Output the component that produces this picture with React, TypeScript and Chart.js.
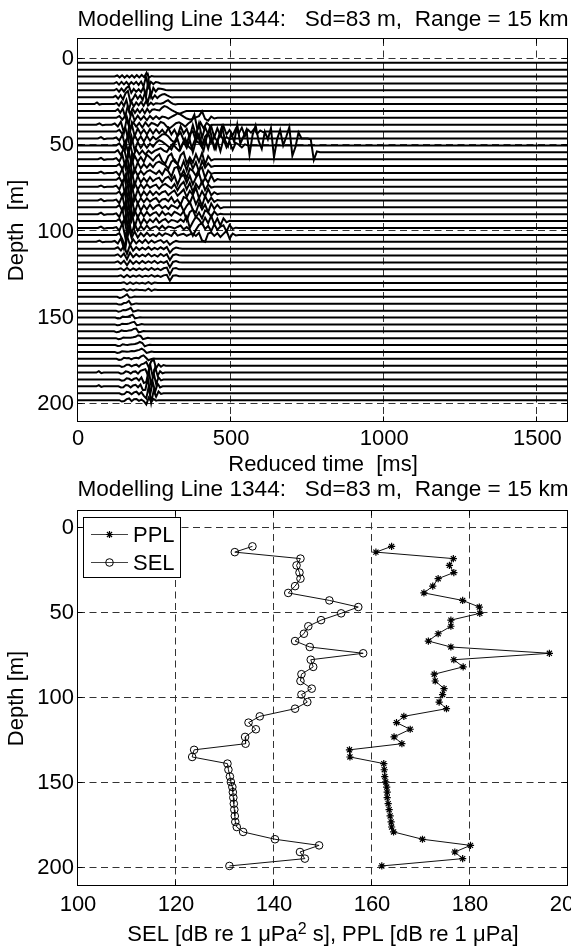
import React, { useEffect, useRef } from "react";
import { Chart, registerables } from "chart.js";

Chart.register(...registerables);

const FONT = '"Liberation Sans", Arial, Helvetica, sans-serif';

// ---------- Top panel: reduced-time traces ----------
const TITLE = "Modelling Line 1344:   Sd=83 m,  Range = 15 km";
const TIME_TICKS = [0, 500, 1000, 1500];
const DEPTH_TICKS = [0, 50, 100, 150, 200];
const TIME_RANGE = [0, 1600];
const TOP_DEPTH_RANGE = [-11.8, 210.7];
const TRACE_DEPTHS = [2, 6, 10, 14, 18, 22, 26, 30, 34, 38, 42, 46, 50, 54, 58, 62, 66, 70, 74, 78, 82, 86, 90, 94, 98, 102, 106, 110, 114, 118, 122, 126, 130, 134, 138, 142, 146, 150, 154, 158, 162, 166, 170, 174, 178, 182, 186, 190, 194, 198];
// each trace: [start time ms, sample step ms, offsets in m (positive = upwards)...]
const TRACE_WIGGLES: number[][] = [
  [],
  [],
  [120, 8, 0, .6, -.5, .7, -.6, .6, -.5, .7, -.6, .8, -.5, .9, -.4, 2.2, -.6, .3, 0],
  [118, 8, 0, .7, -.7, .9, -.6, .8, -.8, .7, -.5, .9, -.8, 1.1, -1.6, 3.8, -2.2, .9, -.4, .8, .5, 0],
  [118, 8, 0, .8, -.8, 1, -.7, 1.3, 2.4, -1.4, .8, -.9, .6, -1, 1.8, -4, 6.8, -3.2, 1.4, -.7, 1, .9, .6, .2, 0],
  [115, 8, 0, .8, -.9, 1.1, -1.3, 2.2, 3.6, -2.8, -1, 1.6, -.9, 1, -1.6, 2.8, -3.6, 2, -.9, 1.1, -.5, .8, 1.6, 1.8, 1, .3, -.2, 0],
  [54, 8, 0, .9, -.3, 0, 0, 0, 0, 0, 0, .6, -.9, 1.3, -1.1, 2.4, -3.4, 1.6, -1.4, .9, -.7, 1.2, -1, 1.5, -.6, .8, -.4, .5, .3, .2, .6, 1.6, 2.2, 1, .1, -.3, 0],
  [122, 8, 0, 1, -1, 1.4, -3.4, 2.6, -1.8, 1.3, -1.1, 1, -.9, 1.1, -1.3, 1.2, -.8, .7, 1, .5, .3, 1.8, 2.8, 2.4, 1.4, .5, -.3, -1, -1.6, -1.2, -.5, 0],
  [125, 10, 0, 1, -1, 1.4, -4, 3.5, -1.6, 1.2, -1.1, .9, -1.3, 1.1, -.7, .9, -.6, .7, .4, -.5, .6, 1.5, 2.6, 1.9, .7, -.4, -1, -.6, .3, 1, 3.8, -.6, -1.6, .7, -.4, 0],
  [60, 10, 0, .8, -.3, 0, 0, 0, .7, -1, 1.8, -4.6, 4.2, -2.2, 1.4, -1.1, 1, -1.6, 1.3, -.9, 1, .4, -.7, 1.6, .9, -1.1, -2, -.6, .9, 1.4, .4, -1.1, .7, 2, 5.8, -2.8, 1.3, -2, 1.1, -.5, 0],
  [125, 10, 0, 1, -1.4, 2, -5, 4.6, -2.6, 1.8, -1.3, 1.1, -1.6, 1.4, -1.1, 1.3, -.9, 1.1, -1.3, 2.1, -1.6, 1.1, -2.6, 3, -1.1, 1.6, -3.2, 3.8, -2.1, 4.8, -3.6, 2.6, -1.6, 3, -3.2, 1.9, -2.3, 3.2, -1.6, .9, -2.1, 1.6, -1.1, 2.3, -2.6, 1.1, -.6, 1.4, -1.2, .6, -.3, 0],
  [65, 10, 0, .8, -.4, 0, 0, 0, .6, -1.2, 2.2, -5.2, 4.8, -2.8, 1.8, -1.4, 1.2, -1.8, 1.5, -1.2, 1, -.6, .9, 2.4, 2.6, 1.2, -1, -2.2, 1.5, 3.5, -1, -3.2, 2.8, 4.2, -1.5, 2.6, -3.8, 1.2, 3.2, -2.4, 1, -1.6, 2.4, -1.2, .8, -.4, 0],
  [125, 10, 0, 1.2, -1.6, 2.3, -5.2, 5, -2.8, 1.9, -1.4, 1.2, -1.4, 1, -.8, 1.6, 3, 2.2, .8, -.6, -2.4, 1.2, 3.6, -2.2, 2, -1.4, 3, -4, 2.6, 1.5, -1.2, 3.4, -2, 4.5, -1.8, 2.8, -3.4, 3.6, -1.2, 2, -2.6, 1.4, .4, -1.2, .6, 0],
  [120, 10, 0, 1.2, -1.6, 2.4, -5, 4.8, -2.6, 1.8, -1.2, 1, -1.3, .9, -.6, .8, 1.6, 2.4, 1, .2, 2.8, 5, 2.6, .8, 4.5, 8, 3.5, 1.8, 6.5, 10.5, 5, 1, 8.5, 14, 6, 2, 9.5, 15, 7, 3.5, 11, 6, 16, 5, 9, 13, -1.5, 10, 15.5, 6.5, 2, 12, 7.5, 14, -3, 7.5, 13, 4, 9, 14.5, -2, 3, 11.5, 8, 8, 8, 7.5, -4.5, .5, 0],
  [65, 10, 0, .7, -.4, 0, 0, 0, .6, -1.3, 2.4, -5, 5.2, -3, 2, -1.5, 1.2, -1.6, 2.6, 1, -.8, 1.4, 2.8, -1.2, -2.6, 1.8, 3.2, -1.4, -3, 2.2, 4, -2.5, 1, -2, 2.8, -1.5, 3.6, -3, 1.8, -.8, 0],
  [125, 10, 0, 1.2, -1.8, 2.5, -5.4, 5.4, -3, 2.1, -1.4, 1.1, -.9, 1.3, -.7, 1.8, 2.6, 1.4, .6, -1.5, 2.5, 3.8, 1, -2, 2.8, -2.5, 3.5, -1.5, 2.2, -3.2, 3, -1, 1.6, -.5, 0],
  [65, 10, 0, .8, -.3, 0, 0, 0, .6, -1.4, 2.5, -5.6, 5.5, -3.1, 2.1, -1.5, 1.2, -1, .8, 1.6, .4, -.6, 1.2, -1, 2.4, 1, -2.2, 2.8, 3.5, -2, 1.5, -3, 2.5, 1.2, -1.6, 2, 3.2, -2.8, 1.4, -.6, 0],
  [125, 10, 0, 1.3, -1.9, 2.7, -5.6, 5.6, -3.3, 2.2, -1.5, 1, -1.2, 1.5, -.8, .6, 1.2, -1.4, .9, 1.8, -.6, 2.2, -2.8, 1.6, 3, -1.8, 2.4, -2.6, 1.2, 3.8, -2.2, 1, -1.6, 2.6, -.8, .4, 0],
  [65, 10, 0, .7, -.3, 0, 0, 0, .6, -1.5, 2.8, -5.8, 5.7, -3.3, 2.3, -1.6, 1.3, -1, 1.4, -.6, .5, 1.2, -1.2, .8, 1.6, .3, -.8, 1.5, -2, 1, 2.8, -1.5, 2.2, -3, 1.6, -1, 3.2, -2, 1.2, -.5, 0],
  [125, 10, 0, 1.2, -2, 2.9, -5.9, 5.9, -3.4, 2.3, -1.6, 1.2, -1, 1.4, -.8, 1, -.6, .8, 1.4, -.9, .6, 1.8, -1.2, .5, 2.4, -2, 1.6, -.8, 3.4, -2.6, 1.4, -1.8, 2.8, -1, .8, -.3, 0],
  [65, 10, 0, .8, -.4, 0, 0, 0, .5, -1.6, 2.9, -6.1, 6, -3.5, 2.4, -1.7, 1.3, -1, 1.2, -.7, .6, 1.4, -1, .6, .9, -.5, 1.8, -1.2, .4, -2.4, 2, 1.2, -1.6, 3, -2.2, 1.4, -3.2, 2.6, -1, 1.6, -.8, .3, 0],
  [125, 10, 0, 1.3, -2.1, 3, -6.2, 6.2, -3.5, 2.4, -1.8, 1.2, -1.1, 1.5, -.9, .8, 1.5, -.5, .7, -1, 1.2, .4, -.6, 1.8, -2.2, .9, 3.2, -1.5, -3, 2.4, -1.2, 1.6, -2.8, 2.2, -.9, 1.5, -.6, 0],
  [65, 10, 0, .9, -.4, 0, 0, 0, .5, -1.6, 3, -6.2, 6.3, -3.6, 2.5, -1.8, 1.4, -1.2, 1.3, -.8, .5, 1.2, -.9, 1.5, -.4, .6, -.8, 1.4, .5, -.6, 1.8, -3.6, 1.2, 2.6, -1.8, 1, -2.4, 2.2, 1.2, -1.5, 1.6, -.4, .2, 0],
  [125, 10, 0, 1.2, -2.1, 3.1, -6.3, 6.2, -3.6, 2.5, -1.8, 1.3, -1.2, 1, -.6, 1.6, -1, .4, 1.2, -.8, .6, .3, -.5, 1, -.4, 2.8, -4, -.5, 2.5, 1, -1.6, 2, -1.2, 3, -1.8, 1.5, -2.5, 1.6, -.6, .2, 0],
  [65, 10, 0, .8, -.4, 0, 0, 0, .5, -1.5, 2.8, -6, 6.1, -3.5, 2.4, -1.6, 1.2, -1, 1.4, -.7, .4, 1, -.6, 1.3, -.5, .8, .4, -.3, .6, 1.4, -.8, .5, -1, -4.5, -1, 1.8, 2.8, -.6, 1.2, -1.8, 2.2, -1, .8, 1.6, -2, 1.8, -.6, .2, 0],
  [125, 10, 0, 1, -2.6, -7.5, 4.2, -1.8, 2, -1.5, 1, -.8, 1.2, -.6, .4, -.8, 1, -.5, .9, .3, -.6, 1.8, -.4, .2, .6, -.5, .3, .8, -.6, 1.2, -3.2, -4, .8, 1.4, -.6, 1, -1.2, .6, 2.4, -2.2, .8, -.3, 0],
  [60, 10, 0, .7, -.3, 0, 0, 0, .5, -1, 2, -4, 3.4, -2, 1.5, -1, .8, -.6, 1.2, -.8, .7, -.5, .4, 1, -.6, .6, -1.8, -.3, .5, 0],
  [120, 10, 0, .8, -1, 1.5, -3, 2.2, -1.2, .9, -.7, .6, -.5, .9, -.6, .5, -.4, .8, -.3, 1, -2.4, -.2, .6, .2, 0],
  [120, 10, 0, .7, -.8, 1.2, -2.2, 1.7, -.9, .8, -.6, .5, -.4, 1, -.5, .4, -.6, .9, -.3, .8, -2.6, .2, .7, .2, 0],
  [120, 10, 0, .6, -.7, 1, -1.6, 1.2, -.8, .7, -.6, .8, -.4, .6, -.3, .9, -.5, .5, -.3, .8, -2.8, .3, .8, .1, 0],
  [130, 10, 0, .6, -.6, .8, -.6, .5, -.4, .6, -.3, .5, -.4, .8, -.3, .4, -.5, .6, 1, -3, .4, .7, 0],
  [130, 10, 0, .5, -.6, .7, -.5, .4, -.3, .5, -.4, .3, -.2, .6, -.3, .3, -.4, .5, .8, -2.6, .3, .5, 0],
  [140, 10, 0, .5, -.6, .4, -.5, .3, -.2, .2, -.3, .6, -.4, .3, 0],
  [140, 10, 0, .5, -.5, .4, -.3, .2, 0, 0, -.3, .8, -.5, .3, 0],
  [128, 8, 0, -.6, -.3, .5, 1.4, -.4, -.3, .2, 0],
  [126, 8, 0, -.5, -.4, .4, .6, 1.6, -.5, -.2, .2, 0],
  [124, 8, 0, -.6, -.3, .4, .2, .8, 1.6, -.6, -.2, .2, 0],
  [122, 8, 0, -.6, -.4, .5, .3, .4, 1, 1.6, -.5, -.2, .2, 0],
  [120, 8, 0, -.5, -.4, .4, .2, .3, .6, 1.2, 1.5, -.5, -.2, .2, 0],
  [118, 8, 0, -.6, -.3, .5, .2, .1, .4, .6, 1.4, 1.6, -.6, -.3, .2, 0],
  [124, 8, 0, -.6, -.4, .4, .3, .2, .3, .5, .8, 1.7, 1.3, -.6, -.2, .2, 0],
  [122, 8, 0, -.5, -.4, .5, .2, .1, .3, .4, .6, 1, 1.8, 1.2, -.7, -.2, .2, 0],
  [120, 8, 0, -.6, -.3, .4, .3, .1, .2, .5, .4, .8, 1.2, 1.9, 1, -.6, -.2, .2, 0],
  [126, 8, 0, -.6, -.4, .6, .3, .5, -.3, .4, .6, .3, 1.4, 2, .6, -.8, -.2, .2, 0],
  [135, 8, 0, -.7, -.4, .6, .5, -.4, .3, .6, -.5, .8, 1.2, 2.2, -1, 2.5, 3.6, -1.5, .8, -.6, .4, 0],
  [60, 8, 0, .8, -.3, 0, 0, 0, 0, 0, 0, 0, -.6, -.4, .7, .4, -.5, .5, .7, -.6, 1, 1.5, 2, -1.5, 4.5, -2.5, 3, -1.8, .8, -.4, 0],
  [135, 8, 0, -.7, -.5, .7, .4, -.5, .4, .8, -.6, 1.2, -2, -1.5, 5.5, -3.5, 3.8, -2.5, 1.2, -.5, 0],
  [60, 8, 0, .7, -.3, 0, 0, 0, 0, 0, 0, 0, -.6, -.5, .8, .5, -.6, .5, .9, -.5, 1, -2.2, -2, 5, -4.5, 2.5, -3, 1.5, -.6, 0],
  [135, 8, 0, -.7, -.5, .8, .5, -.6, .5, .9, -.6, .6, -1.5, -3, 4, -5.5, 1.5, -2, 1, -.4, 0],
  [135, 8, 0, -.8, -.5, .6, 1, -.6, .5, .6, -.4, .3, -.6, -2.5, 1.5, -1, .6, -.3, 0],
];

// ---------- Bottom panel: SEL / PPL profiles ----------
const LEVEL_TICKS = [100, 120, 140, 160, 180, 200];
const LEVEL_RANGE = [100, 200];
const BOTTOM_DEPTH_RANGE = [-10.2, 210.4];
const RECEIVER_DEPTHS = [10.6, 14, 17.8, 21.8, 26, 29.6, 34, 38, 42.4, 46.3, 50, 54, 57.6, 62, 66.3, 69.8, 73.5, 77.3, 81.5, 85.8, 89.8, 94.3, 97.8, 102.2, 106.1, 110.6, 114.3, 118.2, 122.7, 126.7, 130.3, 134.5, 138.4, 142, 146, 149.2, 152.2, 155.2, 158.4, 162, 165.5, 169.2, 172.7, 175.7, 178.6, 182.9, 186.5, 190.4, 194.3, 198.6];
const PPL = [164.0, 160.8, 176.6, 175.8, 176.7, 173.5, 172.4, 170.6, 178.5, 181.9, 182.0, 176.1, 176.1, 173.5, 171.5, 176.1, 196.2, 176.7, 178.6, 172.7, 172.9, 174.7, 174.4, 173.7, 175.2, 166.5, 165.0, 167.8, 164.5, 166.1, 155.4, 155.5, 162.4, 162.5, 162.6, 162.8, 163.0, 163.1, 163.1, 163.3, 163.5, 163.7, 163.9, 164.0, 164.4, 170.3, 180.1, 176.9, 178.5, 162.0];
const SEL = [135.6, 132.0, 145.4, 144.6, 145.2, 145.4, 144.3, 142.9, 151.3, 157.2, 153.7, 149.6, 147.0, 146.1, 144.3, 147.3, 158.2, 147.5, 148.0, 145.6, 145.4, 147.7, 145.6, 146.8, 144.3, 137.1, 134.8, 136.3, 134.1, 134.2, 123.7, 123.3, 130.5, 130.7, 131.0, 131.2, 131.5, 131.6, 131.7, 131.8, 131.9, 132.0, 132.1, 132.4, 133.7, 140.2, 149.2, 145.3, 146.3, 130.9];
const SERIES_NAMES = ["PPL", "SEL"];

// ---------- layout ----------
const CW = 600;
const CH = 480;
const PLOT_LEFT = 78;
const PLOT_RIGHT = 568;
const TITLE_PX = 22.6;

function traceData(depth: number, w: number[]) {
  const pts: { x: number; y: number }[] = [{ x: TIME_RANGE[0], y: depth }];
  if (w.length > 2) {
    const t0 = w[0];
    const dt = w[1];
    for (let i = 2; i < w.length; i++) pts.push({ x: t0 + (i - 2) * dt, y: depth - w[i] });
  }
  pts.push({ x: TIME_RANGE[1], y: depth });
  return pts;
}

function drawMarker(ctx: CanvasRenderingContext2D, style: string, x: number, y: number, r: number) {
  ctx.beginPath();
  if (style === "circle") {
    ctx.arc(x, y, r, 0, Math.PI * 2);
  } else {
    const d = r * Math.SQRT1_2;
    ctx.moveTo(x - r, y); ctx.lineTo(x + r, y);
    ctx.moveTo(x, y - r); ctx.lineTo(x, y + r);
    ctx.moveTo(x - d, y - d); ctx.lineTo(x + d, y + d);
    ctx.moveTo(x - d, y + d); ctx.lineTo(x + d, y - d);
  }
  ctx.stroke();
}

function decor(cfg: any) {
  return {
    id: "decor",
    beforeDatasetsDraw(chart: any) {
      const { ctx, chartArea: a } = chart;
      const xs = chart.scales.x;
      const ys = chart.scales.y;
      ctx.save();
      ctx.beginPath();
      ctx.rect(a.left, a.top, a.right - a.left, a.bottom - a.top);
      ctx.clip();
      ctx.strokeStyle = "#333";
      ctx.lineWidth = 1;
      ctx.setLineDash([7, 4.5]);
      for (const v of cfg.xTicks) {
        const px = Math.round(xs.getPixelForValue(v)) - 0.5;
        if (px < a.left + 2 || px > a.right - 2) continue;
        ctx.beginPath(); ctx.moveTo(px, a.top); ctx.lineTo(px, a.bottom); ctx.stroke();
      }
      for (const v of cfg.yTicks) {
        const py = Math.round(ys.getPixelForValue(v)) - 0.5;
        if (py < a.top + 2 || py > a.bottom - 2) continue;
        ctx.beginPath(); ctx.moveTo(a.left, py); ctx.lineTo(a.right, py); ctx.stroke();
      }
      ctx.restore();
    },
    afterDraw(chart: any) {
      const { ctx, chartArea: a } = chart;
      const xs = chart.scales.x;
      const ys = chart.scales.y;
      ctx.save();
      ctx.setLineDash([]);
      ctx.strokeStyle = "#000";
      ctx.lineWidth = 1;
      const x0 = Math.round(a.left) - 0.5;
      const x1 = Math.round(a.right) - 0.5;
      const y0 = Math.round(a.top) - 0.5;
      const y1 = Math.round(a.bottom) - 0.5;
      ctx.strokeRect(x0, y0, x1 - x0, y1 - y0);
      const TL = 5;
      ctx.beginPath();
      for (const v of cfg.xTicks) {
        const px = Math.round(xs.getPixelForValue(v)) - 0.5;
        ctx.moveTo(px, y1); ctx.lineTo(px, y1 - TL);
        ctx.moveTo(px, y0); ctx.lineTo(px, y0 + TL);
      }
      for (const v of cfg.yTicks) {
        const py = Math.round(ys.getPixelForValue(v)) - 0.5;
        ctx.moveTo(x0, py); ctx.lineTo(x0 + TL, py);
        ctx.moveTo(x1, py); ctx.lineTo(x1 - TL, py);
      }
      ctx.stroke();

      const cx = (a.left + a.right) / 2;
      const cy = (a.top + a.bottom) / 2;
      ctx.fillStyle = "#000";
      ctx.textBaseline = "alphabetic";
      ctx.font = `${TITLE_PX}px ${FONT}`;
      ctx.textAlign = "center";
      ctx.fillText(cfg.title, cx, cfg.titleY);

      const parts = cfg.xLabel as { t: string; sup?: boolean }[];
      const widths = parts.map((p) => {
        ctx.font = p.sup ? `16px ${FONT}` : `22px ${FONT}`;
        return ctx.measureText(p.t).width;
      });
      const total = widths.reduce((s, w) => s + w, 0);
      let xx = cx - total / 2;
      ctx.textAlign = "left";
      parts.forEach((p, i) => {
        ctx.font = p.sup ? `16px ${FONT}` : `22px ${FONT}`;
        ctx.fillText(p.t, xx, cfg.xLabelY - (p.sup ? 7 : 0));
        xx += widths[i];
      });

      ctx.save();
      ctx.translate(cfg.yLabelX, cy);
      ctx.rotate(-Math.PI / 2);
      ctx.font = `22px ${FONT}`;
      ctx.textAlign = "center";
      ctx.fillText(cfg.yLabel, 0, 0);
      ctx.restore();

      if (cfg.legend) {
        const L = cfg.legend;
        ctx.fillStyle = "#fff";
        ctx.fillRect(L.x0, L.y0, L.x1 - L.x0, L.y1 - L.y0);
        ctx.strokeStyle = "#000";
        ctx.lineWidth = 1;
        ctx.strokeRect(L.x0 + 0.5, L.y0 + 0.5, L.x1 - L.x0, L.y1 - L.y0);
        chart.data.datasets.forEach((ds: any, i: number) => {
          const ry = L.rowY[i];
          ctx.strokeStyle = "#444";
          ctx.lineWidth = 1;
          ctx.beginPath(); ctx.moveTo(L.lineX0, ry); ctx.lineTo(L.lineX1, ry); ctx.stroke();
          ctx.strokeStyle = "#000";
          ctx.lineWidth = ds.pointStyle === "circle" ? 1 : 1.2;
          drawMarker(ctx, ds.pointStyle, (L.lineX0 + L.lineX1) / 2, ry, ds.pointRadius);
          ctx.fillStyle = "#000";
          ctx.font = `22px ${FONT}`;
          ctx.textAlign = "left";
          ctx.fillText(ds.label, L.textX, ry + 7.5);
        });
      }
      ctx.restore();
    },
  };
}

const tickFont = { family: FONT, size: 22 };

function axisCommon(ticks: number[], padding: number) {
  return {
    type: "linear" as const,
    afterBuildTicks: (s: any) => { s.ticks = ticks.map((v) => ({ value: v })); },
    grid: { display: false, drawTicks: false },
    border: { display: false },
    ticks: { font: tickFont, color: "#000", padding, autoSkip: false, maxRotation: 0, callback: (v: any) => String(v) },
  };
}

function topConfig(): any {
  return {
    type: "line",
    data: {
      datasets: TRACE_DEPTHS.map((d, i) => ({
        data: traceData(d, TRACE_WIGGLES[i]),
        borderColor: "#000",
        borderWidth: 2,
        pointRadius: 0,
        pointHoverRadius: 0,
        tension: 0,
        fill: false,
      })),
    },
    options: {
      responsive: false,
      animation: false,
      devicePixelRatio: 1,
      events: [],
      layout: { padding: { top: 39, left: 0, right: CW - PLOT_RIGHT, bottom: 0 } },
      plugins: { legend: { display: false }, tooltip: { enabled: false }, title: { display: false } },
      scales: {
        x: { ...axisCommon(TIME_TICKS, 3.5), min: TIME_RANGE[0], max: TIME_RANGE[1], afterFit: (s: any) => { s.height = CH - 422; } },
        y: { ...axisCommon(DEPTH_TICKS, 4), reverse: true, min: TOP_DEPTH_RANGE[0], max: TOP_DEPTH_RANGE[1], afterFit: (s: any) => { s.width = PLOT_LEFT; } },
      },
    },
    plugins: [
      decor({
        xTicks: TIME_TICKS,
        yTicks: DEPTH_TICKS,
        title: TITLE,
        titleY: 26,
        xLabel: [{ t: "Reduced time  [ms]" }],
        xLabelY: 471,
        yLabel: "Depth  [m]",
        yLabelX: 23,
      }),
    ],
  };
}

function bottomConfig(): any {
  return {
    type: "line",
    data: {
      datasets: [
        {
          label: SERIES_NAMES[0],
          data: RECEIVER_DEPTHS.map((d, i) => ({ x: PPL[i], y: d })),
          borderColor: "#111",
          borderWidth: 1,
          pointStyle: "star",
          pointRadius: 3.6,
          pointBorderColor: "#000",
          pointBorderWidth: 1.2,
          pointBackgroundColor: "#000",
          pointHoverRadius: 0,
          tension: 0,
          fill: false,
        },
        {
          label: SERIES_NAMES[1],
          data: RECEIVER_DEPTHS.map((d, i) => ({ x: SEL[i], y: d })),
          borderColor: "#111",
          borderWidth: 1,
          pointStyle: "circle",
          pointRadius: 3.8,
          pointBorderColor: "#000",
          pointBorderWidth: 1,
          pointBackgroundColor: "rgba(0,0,0,0)",
          pointHoverRadius: 0,
          tension: 0,
          fill: false,
        },
      ],
    },
    options: {
      responsive: false,
      animation: false,
      devicePixelRatio: 1,
      events: [],
      layout: { padding: { top: 41, left: 0, right: CW - PLOT_RIGHT, bottom: 0 } },
      plugins: { legend: { display: false }, tooltip: { enabled: false }, title: { display: false } },
      scales: {
        x: { ...axisCommon(LEVEL_TICKS, 5.7), min: LEVEL_RANGE[0], max: LEVEL_RANGE[1], afterFit: (s: any) => { s.height = CH - 416; } },
        y: { ...axisCommon(DEPTH_TICKS, 4), reverse: true, min: BOTTOM_DEPTH_RANGE[0], max: BOTTOM_DEPTH_RANGE[1], afterFit: (s: any) => { s.width = PLOT_LEFT; } },
      },
    },
    plugins: [
      decor({
        xTicks: LEVEL_TICKS,
        yTicks: DEPTH_TICKS,
        title: TITLE,
        titleY: 26,
        xLabel: [{ t: "SEL [dB re 1 \u03bcPa" }, { t: "2", sup: true }, { t: " s], PPL [dB re 1 \u03bcPa]" }],
        xLabelY: 471,
        yLabel: "Depth [m]",
        yLabelX: 23,
        legend: { x0: 83, y0: 47, x1: 180, y1: 107, rowY: [64.5, 92.5], lineX0: 91, lineX1: 128, textX: 133 },
      }),
    ],
  };
}

export default function App() {
  const topRef = useRef<HTMLCanvasElement>(null);
  const botRef = useRef<HTMLCanvasElement>(null);
  useEffect(() => {
    const c1 = new Chart(topRef.current as HTMLCanvasElement, topConfig());
    const c2 = new Chart(botRef.current as HTMLCanvasElement, bottomConfig());
    return () => {
      c1.destroy();
      c2.destroy();
    };
  }, []);
  return (
    <div style={{ position: "fixed", left: 0, top: 0, width: 571, height: 950, overflow: "hidden", background: "#fff" }}>
      <canvas ref={topRef} width={CW} height={CH} style={{ position: "absolute", left: 0, top: 0, width: CW, height: CH }} />
      <canvas ref={botRef} width={CW} height={CH} style={{ position: "absolute", left: 0, top: 470, width: CW, height: CH }} />
    </div>
  );
}
